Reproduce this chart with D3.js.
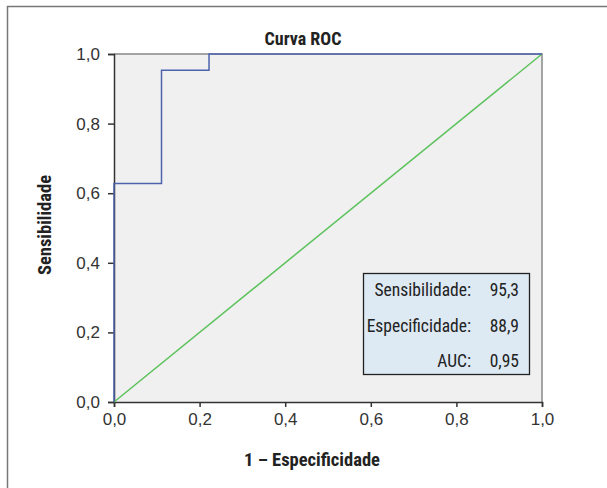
<!DOCTYPE html>
<html><head><meta charset="utf-8">
<script src="https://cdn.jsdelivr.net/npm/d3@7"></script>
<style>
body{margin:0;background:#fff;}
text{font-family:"Liberation Sans Narrow","Roboto Condensed","Arial Narrow",Roboto,sans-serif;}
</style></head>
<body><svg id="c" width="607" height="488"></svg>
<script>
const rocX = [0, 0, 0.111, 0.111, 0.222, 0.222, 1.0];
const rocY = [0, 0.628, 0.628, 0.953, 0.953, 1.0, 1.0];
const refX = [0, 1];
const refY = [0, 1];
const tickValues = [0, 0.2, 0.4, 0.6, 0.8, 1.0];
const statLabels = ["Sensibilidade:", "Especificidade:", "AUC:"];
const statValues = ["95,3", "88,9", "0,95"];

const svg = d3.select("#c");
const L=114,R=542,T=54,B=402;
const x = d3.scaleLinear().domain([0,1]).range([L,R]);
const y = d3.scaleLinear().domain([0,1]).range([B,T]);
const fmt = d => d3.format(".1f")(d).replace(".", ",");

// outer frame (top + left)
svg.append("path").attr("d","M7.5,700 V6.5 H700").attr("fill","none").attr("stroke","#777").attr("stroke-width",1.5);

// plot background
svg.append("rect").attr("x",L).attr("y",T).attr("width",R-L).attr("height",B-T).attr("fill","#f0f0f0");
svg.append("path").attr("d",`M${L},${T}H${R}V${B}`).attr("fill","none").attr("stroke","#888").attr("stroke-width",1.5);

// axes
const xa = svg.append("g").attr("transform",`translate(0,${B})`).call(d3.axisBottom(x).tickValues(tickValues).tickFormat(fmt).tickSize(5).tickPadding(6));
const ya = svg.append("g").attr("transform",`translate(${L},0)`).call(d3.axisLeft(y).tickValues(tickValues).tickFormat(fmt).tickSize(6).tickPadding(8));
[xa,ya].forEach(a=>{a.select(".domain").attr("stroke","#333").attr("stroke-width",1.5);
 a.selectAll(".tick line").attr("stroke","#333").attr("stroke-width",1.5);
 a.selectAll("text").attr("font-size",17).attr("fill","#333").style("font-family",'"Liberation Sans Narrow",sans-serif');});

// reference diagonal
svg.append("path").datum(refX.map((v,i)=>[v,refY[i]]))
 .attr("d",d3.line().x(d=>x(d[0])).y(d=>y(d[1]))).attr("stroke","#5cc25c").attr("stroke-width",1.5).attr("fill","none");
// ROC
svg.append("path").datum(rocX.map((v,i)=>[v,rocY[i]]))
 .attr("d",d3.line().x(d=>x(d[0])).y(d=>y(d[1]))).attr("stroke","#4d63ad").attr("stroke-width",1.5).attr("fill","none");

// titles
svg.append("text").attr("x",303).attr("y",45).attr("text-anchor","middle").attr("font-size",18).attr("font-weight","bold").attr("fill","#222").text("Curva ROC");
svg.append("text").attr("x",312).attr("y",466).attr("text-anchor","middle").attr("font-size",18.5).attr("font-weight","bold").attr("fill","#222").text("1 – Especificidade");
svg.append("text").attr("transform","translate(51,225) rotate(-90)").attr("text-anchor","middle").attr("font-size",18.5).attr("font-weight","bold").attr("fill","#222").text("Sensibilidade");

// stats box
svg.append("rect").attr("x",363.5).attr("y",273.5).attr("width",166).attr("height",101).attr("fill","#dde9f3").attr("stroke","#222").attr("stroke-width",1.3);
const rowsY=[296,332,367];
statLabels.forEach((s,i)=>{
 svg.append("text").attr("x",471).attr("y",rowsY[i]).attr("text-anchor","end").attr("font-size",17.5).attr("fill","#222").text(s);
 svg.append("text").attr("x",519).attr("y",rowsY[i]).attr("text-anchor","end").attr("font-size",17.5).attr("fill","#222").text(statValues[i]);
});
</script></body></html>
